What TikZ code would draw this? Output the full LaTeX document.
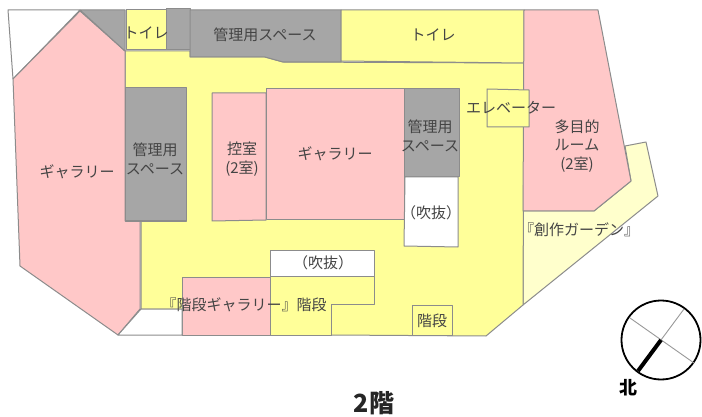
\documentclass[tikz,border=0pt]{standalone}
\usepackage{fontspec}
\setmainfont{Noto Sans CJK JP}
\definecolor{pinkroom}{HTML}{FFC8C8}
\definecolor{yellowroom}{HTML}{FFFF99}
\definecolor{grayroom}{HTML}{A6A6A6}
\definecolor{paleroom}{HTML}{FFFFCC}
\definecolor{wall}{HTML}{8C8C8C}
\definecolor{inktext}{HTML}{444444}
\tikzset{
  room/.style={draw=wall,line width=1pt,line join=round},
  pinkr/.style={room,fill=pinkroom},
  yellowr/.style={room,fill=yellowroom},
  grayr/.style={room,fill=grayroom},
  paler/.style={room,fill=paleroom},
  whiter/.style={room,fill=white},
  lbl/.style={text=inktext,font=\fontsize{15}{18.5}\selectfont,align=center,inner sep=0pt},
  compassthin/.style={draw=black!40,line width=0.9pt},
}
\begin{document}
\begin{tikzpicture}[x=1pt,y=-1pt]
\useasboundingbox (0,0) rectangle (702,417);
\fill[white] (0,0) rectangle (702,417);
% outer shapes
\draw[whiter] (8,10) -- (80,10) -- (13,79) -- cycle;
\draw[paler] (631,181) -- (625,146) -- (646,142) -- (658,196) -- (523,305) -- (523,211) -- (594,211) -- cycle;
\draw[yellowr] (125,51) -- (190,51) -- (190,57) -- (265,57) -- (283,62) -- (524,63) -- (523,305) -- (486,336) -- (331,335) -- (270,335) -- (182,335) -- (182,309) -- (141,309) -- (141,221) -- (125,221) -- cycle;
\draw[pinkr] (80,11) -- (125,51) -- (125,221) -- (140,221) -- (140,309) -- (118,335) -- (20,266) -- (13,79) -- cycle;
\draw[grayr] (80,10) -- (125,10) -- (125,51) -- cycle;
\draw[yellowr] (126,10) -- (166,10) -- (166,50) -- (126,50) -- cycle;
\draw[grayr] (166,9) -- (190,9) -- (190,50) -- (166,50) -- cycle;
\draw[grayr] (190,10) -- (341,10) -- (341,62) -- (283,62) -- (265,57) -- (190,57) -- cycle;
\draw[yellowr] (341,10) -- (524,10) -- (524,63) -- (341,61) -- cycle;
\draw[grayr] (125,88) -- (186,88) -- (186,221) -- (125,221) -- cycle;
\draw[pinkr] (212,93) -- (266,93) -- (266,220) -- (212,221) -- cycle;
\draw[pinkr] (266,89) -- (404,89) -- (404,220) -- (266,220) -- cycle;
\draw[grayr] (404,89) -- (459,89) -- (459,177) -- (404,177) -- cycle;
\draw[whiter] (405,177) -- (458,177) -- (458,247) -- (404,246) -- cycle;
\draw[pinkr] (524,10) -- (598,10) -- (631,181) -- (594,211) -- (523,211) -- cycle;
\draw[yellowr] (487,89) -- (529,90) -- (529,127) -- (487,127) -- cycle;
\draw[whiter] (270,250) -- (374,250) -- (374,276) -- (270,276) -- cycle;
\draw[yellowr] (270,276) -- (374,276) -- (374,304) -- (331,304) -- (331,335) -- (270,335) -- cycle;
\draw[pinkr] (182,277) -- (270,277) -- (270,335) -- (182,335) -- cycle;
\draw[whiter] (141,309) -- (182,309) -- (182,335) -- (118,335) -- cycle;
\draw[yellowr] (412,305) -- (452,305) -- (452,335) -- (412,335) -- cycle;
% labels
\node[lbl] (t1) at (146,33) {トイレ};
\node[lbl] (m1) at (265,35) {管理用スペース};
\node[lbl] (t2) at (433,35) {トイレ};
\node[lbl] (g1) at (77,172) {ギャラリー};
\node[lbl] (m2) at (155,159) {管理用\\スペース};
\node[lbl] (h1) at (242,159) {控室\\(2室)};
\node[lbl] (g2) at (335,154) {ギャラリー};
\node[lbl] (m3) at (430,136) {管理用\\スペース};
\node[lbl] (ev) at (511,108) {エレベーター};
\node[lbl] (tm) at (577,146) {多目的\\ルーム\\(2室)};
\node[lbl] (f1) at (431,213) {（吹抜）};
\node[lbl] (f2) at (323,263) {（吹抜）};
\node[lbl] (sg) at (579,230) {『創作ガーデン』};
\node[lbl] (kg) at (244,305) {『階段ギャラリー』階段};
\node[lbl] (k2) at (432,321) {階段};
% compass
\node[draw=black,line width=1.8pt,circle,minimum size=79pt,inner sep=0pt] (cmp) at (661,340) {};
\coordinate (cc) at (661,340);
\coordinate (cw) at (630,318);
\coordinate (ce) at (694,363);
\coordinate (cn) at (684,309);
\coordinate (cs) at (638,371);
\draw[compassthin] (cw) -- (ce);
\draw[compassthin] (cc) -- (cn);
\draw[line width=4pt,black] (cc) -- (cs);
\node[text=black,font=\bfseries\fontsize{18}{18}\selectfont,inner sep=0pt] (kita) at (628,388) {北};
\node[text=black!85,font=\bfseries\fontsize{25}{25}\selectfont,inner sep=0pt] (floor) at (374,403) {2階};
\end{tikzpicture}
\end{document}
